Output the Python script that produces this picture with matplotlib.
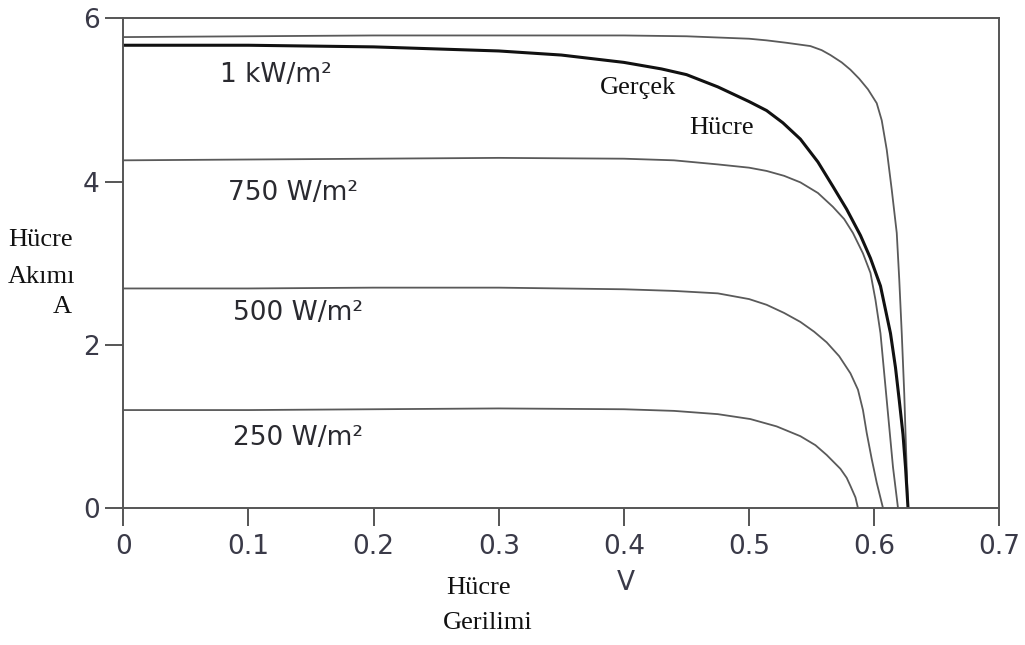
import numpy as np
import matplotlib
matplotlib.use("Agg")
import matplotlib.pyplot as plt

# I-V curves of a solar cell at different irradiance levels
v_1kw = [0, 0.1, 0.2, 0.3, 0.4, 0.45, 0.5, 0.514, 0.53, 0.549, 0.558, 0.565, 0.574,
         0.581, 0.588, 0.595, 0.602, 0.606, 0.61, 0.614, 0.618, 0.62, 0.622, 0.624,
         0.625, 0.627]
i_1kw = [5.77, 5.78, 5.79, 5.79, 5.79, 5.78, 5.75, 5.73, 5.70, 5.66, 5.61, 5.55, 5.46,
         5.37, 5.26, 5.13, 4.96, 4.75, 4.39, 3.90, 3.37, 2.80, 2.14, 1.40,
         0.92, 0.0]

v_real = [0, 0.1, 0.2, 0.3, 0.35, 0.4, 0.43, 0.45, 0.475, 0.5, 0.514, 0.527, 0.541,
          0.555, 0.567, 0.578, 0.589, 0.597, 0.605, 0.613, 0.617, 0.62, 0.623, 0.625,
          0.627]
i_real = [5.67, 5.67, 5.65, 5.60, 5.55, 5.46, 5.38, 5.31, 5.16, 4.98, 4.87, 4.72, 4.52,
          4.24, 3.94, 3.66, 3.34, 3.06, 2.72, 2.14, 1.72, 1.32, 0.90, 0.50,
          0.0]

v_750 = [0, 0.1, 0.2, 0.3, 0.4, 0.44, 0.475, 0.5, 0.514, 0.528, 0.541, 0.555, 0.567,
         0.576, 0.583, 0.591, 0.597, 0.601, 0.605, 0.61, 0.615, 0.619]
i_750 = [4.26, 4.27, 4.28, 4.29, 4.28, 4.26, 4.21, 4.17, 4.13, 4.07, 3.99, 3.86, 3.69,
         3.54, 3.37, 3.12, 2.88, 2.55, 2.14, 1.32, 0.50, 0.0]

v_500 = [0, 0.1, 0.2, 0.3, 0.4, 0.44, 0.475, 0.5, 0.514, 0.528, 0.541, 0.552, 0.562,
         0.572, 0.581, 0.587, 0.591, 0.594, 0.598, 0.602, 0.607]
i_500 = [2.69, 2.69, 2.70, 2.70, 2.68, 2.66, 2.63, 2.56, 2.49, 2.39, 2.28, 2.16, 2.03,
         1.86, 1.65, 1.45, 1.20, 0.92, 0.60, 0.31, 0.0]

v_250 = [0, 0.1, 0.2, 0.3, 0.4, 0.44, 0.475, 0.501, 0.522, 0.541, 0.553, 0.562, 0.573,
         0.578, 0.581, 0.585, 0.587]
i_250 = [1.20, 1.20, 1.21, 1.22, 1.21, 1.19, 1.15, 1.09, 1.00, 0.88, 0.77, 0.65, 0.48,
         0.37, 0.27, 0.13, 0.0]

x_ticks = [0, 0.1, 0.2, 0.3, 0.4, 0.5, 0.6, 0.7]
y_ticks = [0, 2, 4, 6]

fig = plt.figure(figsize=(10.25, 6.45), dpi=100)
ax = fig.add_axes([0.1203, 0.2124, 0.8547, 0.7592])

thin = dict(color="#5a5a5a", linewidth=1.3)
ax.plot(v_1kw, i_1kw, **thin)
ax.plot(v_750, i_750, **thin)
ax.plot(v_500, i_500, **thin)
ax.plot(v_250, i_250, **thin)
ax.plot(v_real, i_real, color="#111111", linewidth=2.2)

ax.set_xlim(0, 0.7)
ax.set_ylim(0, 6)
ax.set_xticks(x_ticks)
ax.set_xticklabels(["0", "0.1", "0.2", "0.3", "0.4", "0.5", "0.6", "0.7"])
ax.set_yticks(y_ticks)
for s in ax.spines.values():
    s.set_color("#555555")
    s.set_linewidth(1.4)
ax.tick_params(axis="both", direction="out", length=13, width=1.4, color="#555555",
               labelsize=19, labelcolor="#3a3a48")
ax.tick_params(axis="x", pad=6)
ax.tick_params(axis="y", pad=4)

sans = dict(fontsize=19, color="#2a2a30", va="center")
ax.text(0.077, 5.31, "1 kW/m²", **sans)
ax.text(0.084, 3.86, "750 W/m²", **sans)
ax.text(0.088, 2.39, "500 W/m²", **sans)
ax.text(0.088, 0.86, "250 W/m²", **sans)

serif = dict(family="Liberation Serif", fontsize=19, color="#111111", va="center")
ax.text(0.381, 5.15, "Gerçek", **serif)
ax.text(0.452, 4.66, "Hücre", **serif)

fig.text(8 / 1025, 1 - 240 / 645, "Hücre", ha="left", **serif)
fig.text(8 / 1025, 1 - 277 / 645, "Akımı", ha="left", **serif)
fig.text(53 / 1025, 1 - 307 / 645, "A", ha="left", **serif)

fig.text(446 / 1025, 1 - 588 / 645, "Hücre", ha="left", **serif)
fig.text(443 / 1025, 1 - 623 / 645, "Gerilimi", ha="left", **serif)
fig.text(626 / 1025, 1 - 583 / 645, "V", ha="center", va="center", fontsize=19,
         color="#3a3a48")

fig.savefig("out.png", dpi=100)
plt.close(fig)
